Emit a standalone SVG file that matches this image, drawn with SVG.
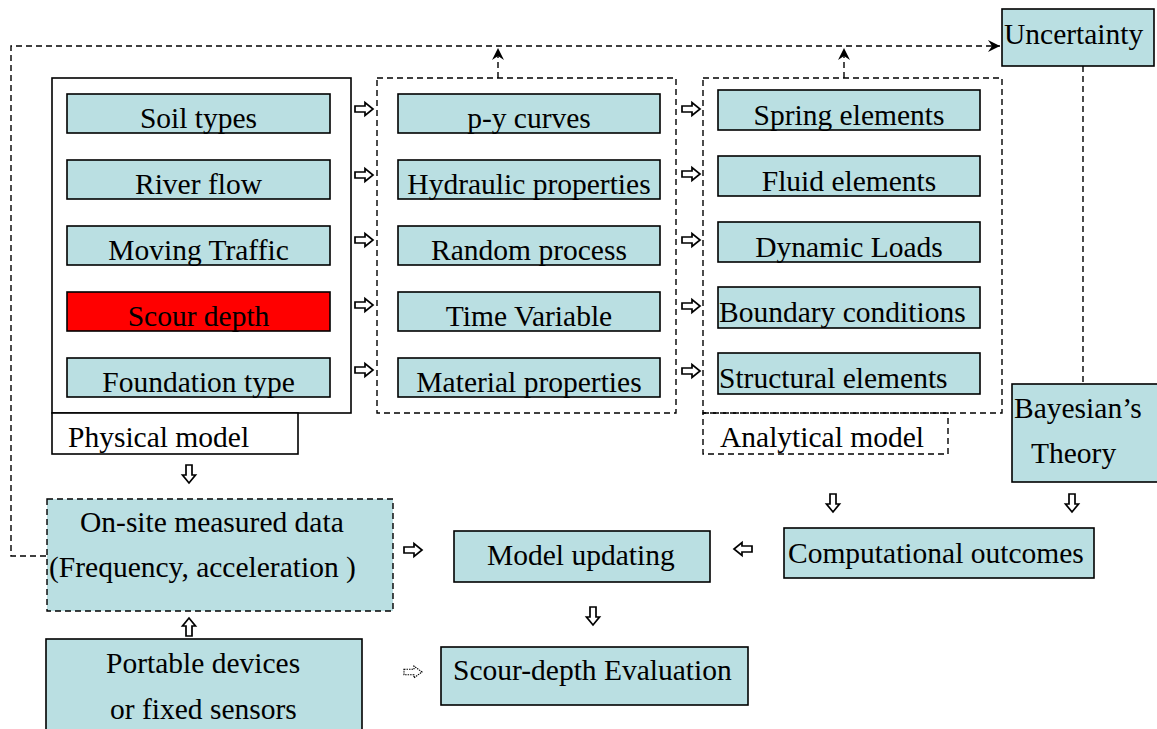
<svg xmlns="http://www.w3.org/2000/svg" width="1157" height="729" viewBox="0 0 1157 729">
  <style>
    .lbl { font-family: "Liberation Serif", "Times New Roman", serif; font-size: 29.5px; fill: #000; }
    .c { text-anchor: middle; }
    .box { fill: #BADFE2; stroke: #000; stroke-width: 1.6; }
    .red { fill: #FF0000; stroke: #000; stroke-width: 1.6; }
    .frame { fill: #fff; stroke: #000; stroke-width: 1.6; }
    .dframe { fill: none; stroke: #000; stroke-width: 1.4; stroke-dasharray: 6 4; }
    .dbox { fill: #BADFE2; stroke: #000; stroke-width: 1.4; stroke-dasharray: 6 4; }
    .dash { fill: none; stroke: #000; stroke-width: 1.4; stroke-dasharray: 6 4; }
    .barrow { fill: #fff; stroke: #000; stroke-width: 1.7; stroke-linejoin: miter; }
    .dotarrow { fill: #fff; stroke: #000; stroke-width: 1.2; stroke-dasharray: 1.5 1; }
  </style>
  <defs>
    <!-- hollow block arrow pointing right, centred on the origin -->
    <path id="blk" d="M-9,-3 H1 V-6.5 L9,0 L1,6.5 V3 H-9 Z"/>
    <marker id="stealth" markerUnits="userSpaceOnUse" markerWidth="16" markerHeight="16" refX="0" refY="0" viewBox="-14 -8 16 16" orient="auto">
      <path d="M0,0 L-12,-6 L-8,0 L-12,6 Z" fill="#000"/>
    </marker>
  </defs>

  <!-- Physical model -->
  <g id="physical-model">
    <rect class="frame" x="52" y="78" width="299" height="335"/>
    <rect class="frame" x="52" y="413" width="246" height="41"/>
    <text class="lbl" x="68" y="447">Physical model</text>
  </g>
  <g id="soil-types">
    <rect class="box" x="67" y="94" width="263" height="39"/>
    <text class="lbl c" x="198.5" y="128">Soil types</text>
  </g>
  <g id="river-flow">
    <rect class="box" x="67" y="160" width="263" height="39"/>
    <text class="lbl c" x="198.5" y="194">River flow</text>
  </g>
  <g id="moving-traffic">
    <rect class="box" x="67" y="226" width="263" height="39"/>
    <text class="lbl c" x="198.5" y="260">Moving Traffic</text>
  </g>
  <g id="scour-depth">
    <rect class="red" x="67" y="292" width="263" height="39"/>
    <text class="lbl c" x="198.5" y="326">Scour depth</text>
  </g>
  <g id="foundation-type">
    <rect class="box" x="67" y="358" width="263" height="39"/>
    <text class="lbl c" x="198.5" y="392">Foundation type</text>
  </g>

  <!-- Intermediate properties -->
  <g id="properties">
    <rect class="dframe" x="377" y="78" width="299" height="335"/>
  </g>
  <g id="py-curves">
    <rect class="box" x="398" y="94" width="262" height="39"/>
    <text class="lbl c" x="529" y="128">p-y curves</text>
  </g>
  <g id="hydraulic-properties">
    <rect class="box" x="398" y="160" width="262" height="39"/>
    <text class="lbl c" x="529" y="194">Hydraulic properties</text>
  </g>
  <g id="random-process">
    <rect class="box" x="398" y="226" width="262" height="39"/>
    <text class="lbl c" x="529" y="260">Random process</text>
  </g>
  <g id="time-variable">
    <rect class="box" x="398" y="292" width="262" height="39"/>
    <text class="lbl c" x="529" y="326">Time Variable</text>
  </g>
  <g id="material-properties">
    <rect class="box" x="398" y="358" width="262" height="39"/>
    <text class="lbl c" x="529" y="392">Material properties</text>
  </g>

  <!-- Analytical model -->
  <g id="analytical-model">
    <rect class="dframe" x="703" y="78" width="299" height="335"/>
    <rect class="dframe" x="703" y="413" width="245" height="41"/>
    <text class="lbl" x="720" y="447">Analytical model</text>
  </g>
  <g id="spring-elements">
    <rect class="box" x="718" y="90" width="262" height="40"/>
    <text class="lbl c" x="849" y="125">Spring elements</text>
  </g>
  <g id="fluid-elements">
    <rect class="box" x="718" y="156" width="262" height="40"/>
    <text class="lbl c" x="849" y="191">Fluid elements</text>
  </g>
  <g id="dynamic-loads">
    <rect class="box" x="718" y="222" width="262" height="40"/>
    <text class="lbl c" x="849" y="257">Dynamic Loads</text>
  </g>
  <g id="boundary-conditions">
    <rect class="box" x="718" y="287" width="262" height="41"/>
    <text class="lbl" x="719" y="322">Boundary conditions</text>
  </g>
  <g id="structural-elements">
    <rect class="box" x="718" y="353" width="262" height="41"/>
    <text class="lbl" x="719" y="388">Structural elements</text>
  </g>

  <!-- Uncertainty and Bayesian theory -->
  <g id="uncertainty">
    <rect class="box" x="1002" y="9" width="152" height="57"/>
    <text class="lbl" x="1004" y="44">Uncertainty</text>
  </g>
  <g id="bayesian-theory">
    <rect class="box" x="1012" y="384" width="147" height="98"/>
    <text class="lbl" x="1014" y="418">Bayesian’s</text>
    <text class="lbl" x="1031" y="463">Theory</text>
  </g>

  <!-- Measurement and updating -->
  <g id="onsite-data">
    <rect class="dbox" x="47" y="499" width="346" height="112"/>
    <text class="lbl" x="80" y="532">On-site measured data</text>
    <text class="lbl" x="49" y="577">(Frequency, acceleration )</text>
  </g>
  <g id="sensors">
    <rect class="box" x="46" y="639" width="316" height="100"/>
    <text class="lbl" x="106" y="673">Portable devices</text>
    <text class="lbl" x="110" y="719">or fixed sensors</text>
  </g>
  <g id="model-updating">
    <rect class="box" x="454" y="531" width="256" height="51"/>
    <text class="lbl" x="487" y="565">Model updating</text>
  </g>
  <g id="computational-outcomes">
    <rect class="box" x="784" y="528" width="310" height="50"/>
    <text class="lbl" x="788" y="563">Computational outcomes</text>
  </g>
  <g id="scour-evaluation">
    <rect class="box" x="441" y="647" width="307" height="58"/>
    <text class="lbl" x="453" y="680">Scour-depth Evaluation</text>
  </g>

  <!-- Connectors -->
  <g id="connectors">
    <!-- dashed feedback loop to Uncertainty -->
    <path class="dash" d="M46,556 H11 V46 H1000" marker-end="url(#stealth)"/>
    <path class="dash" d="M498,78 V48" marker-end="url(#stealth)"/>
    <path class="dash" d="M844,78 V48" marker-end="url(#stealth)"/>
    <path class="dash" d="M1083,66 V384"/>

    <!-- physical model to properties -->
    <use href="#blk" class="barrow" transform="translate(364,109)"/>
    <use href="#blk" class="barrow" transform="translate(364,175)"/>
    <use href="#blk" class="barrow" transform="translate(364,240)"/>
    <use href="#blk" class="barrow" transform="translate(364,305)"/>
    <use href="#blk" class="barrow" transform="translate(364,370)"/>

    <!-- properties to analytical model -->
    <use href="#blk" class="barrow" transform="translate(691,109)"/>
    <use href="#blk" class="barrow" transform="translate(691,174)"/>
    <use href="#blk" class="barrow" transform="translate(691,240)"/>
    <use href="#blk" class="barrow" transform="translate(691,306)"/>
    <use href="#blk" class="barrow" transform="translate(691,371)"/>

    <!-- lower flow -->
    <use href="#blk" class="barrow" transform="translate(189,474) rotate(90)"/>
    <use href="#blk" class="barrow" transform="translate(189,627) rotate(-90)"/>
    <use href="#blk" class="barrow" transform="translate(413,550)"/>
    <use href="#blk" class="barrow" transform="translate(743,549) rotate(180)"/>
    <use href="#blk" class="barrow" transform="translate(833,503) rotate(90)"/>
    <use href="#blk" class="barrow" transform="translate(1072,503) rotate(90)"/>
    <use href="#blk" class="barrow" transform="translate(593,616) rotate(90)"/>
    <use href="#blk" class="dotarrow" transform="translate(413,672) scale(1,0.9)"/>
  </g>
</svg>
